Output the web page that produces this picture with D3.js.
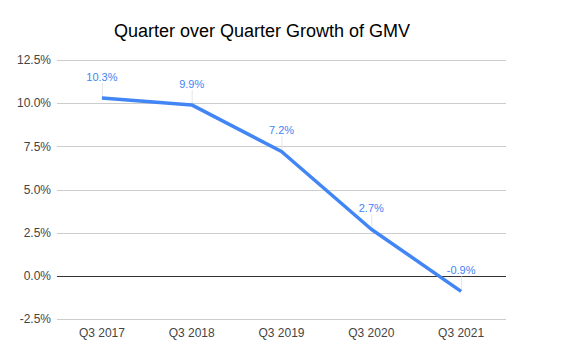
<!DOCTYPE html>
<html>
<head>
<meta charset="utf-8">
<script src="https://cdn.jsdelivr.net/npm/d3@7"></script>
<style>
  body { margin: 0; background: #fff; }
  text { font-family: "Liberation Sans", Arial, sans-serif; }
</style>
</head>
<body>
<div id="wrapper"></div>
<script>
const quarters = ["Q3 2017", "Q3 2018", "Q3 2019", "Q3 2020", "Q3 2021"];
const growth = [10.3, 9.9, 7.2, 2.7, -0.9];
const yTicks = [-2.5, 0, 2.5, 5, 7.5, 10, 12.5];

function build() {
  var dimension = {
    width: 580,
    height: 359,
    margin: { top: 60, right: 74, bottom: 40, left: 57 },
  };
  dimension.boundedWidth = dimension.width - dimension.margin.left - dimension.margin.right;
  dimension.boundedHeight = dimension.height - dimension.margin.top - dimension.margin.bottom;

  const data = quarters.map((q, i) => ({ q, v: growth[i] }));

  const svg = d3.select("#wrapper")
    .append("svg")
    .attr("width", dimension.width)
    .attr("height", dimension.height);

  svg.append("text")
    .attr("x", 262)
    .attr("y", 37)
    .attr("text-anchor", "middle")
    .style("font-size", "18px")
    .style("fill", "#000")
    .text("Quarter over Quarter Growth of GMV");

  const bounds = svg.append("g")
    .attr("transform", `translate(${dimension.margin.left},${dimension.margin.top})`);

  const x = d3.scalePoint()
    .domain(quarters)
    .range([0, dimension.boundedWidth])
    .padding(0.5);

  const y = d3.scaleLinear()
    .domain([-2.5, 12.5])
    .range([dimension.boundedHeight, 0]);

  // grid
  bounds.append("g")
    .selectAll("line")
    .data(yTicks)
    .enter()
    .append("line")
    .attr("x1", 0)
    .attr("x2", dimension.boundedWidth)
    .attr("y1", d => Math.round(y(d)) + 0.5)
    .attr("y2", d => Math.round(y(d)) + 0.5)
    .style("stroke", d => d === 0 ? "#333" : "#ccc")
    .style("stroke-width", 1);

  // y labels
  bounds.append("g")
    .selectAll("text")
    .data(yTicks)
    .enter()
    .append("text")
    .attr("x", -6)
    .attr("y", d => y(d))
    .attr("dy", "0.35em")
    .attr("text-anchor", "end")
    .style("font-size", "12px")
    .style("fill", "#444")
    .text(d => d.toFixed(1) + "%");

  // x labels
  bounds.append("g")
    .selectAll("text")
    .data(quarters)
    .enter()
    .append("text")
    .attr("x", d => x(d))
    .attr("y", dimension.boundedHeight + 18)
    .attr("text-anchor", "middle")
    .style("font-size", "12px")
    .style("fill", "#444")
    .text(d => d);

  // leader lines
  bounds.append("g")
    .selectAll("line")
    .data(data)
    .enter()
    .append("line")
    .attr("x1", d => x(d.q) + 0.5)
    .attr("x2", d => x(d.q) + 0.5)
    .attr("y1", d => y(d.v) - 15)
    .attr("y2", d => y(d.v))
    .style("stroke", "#e6e6e6")
    .style("stroke-width", 1);

  const line = d3.line()
    .x(d => x(d.q))
    .y(d => y(d.v));

  bounds.append("path")
    .datum(data)
    .attr("d", line)
    .style("fill", "none")
    .style("stroke", "#4285f4")
    .style("stroke-width", 3.5)
    .style("stroke-linejoin", "round");

  // data labels
  bounds.append("g")
    .selectAll("text")
    .data(data)
    .enter()
    .append("text")
    .attr("x", d => x(d.q))
    .attr("y", d => y(d.v) - 21)
    .attr("dy", "0.35em")
    .attr("text-anchor", "middle")
    .style("font-size", "11px")
    .style("fill", "#4285f4")
    .text(d => d.v.toFixed(1) + "%");
}

build();
</script>
</body>
</html>
